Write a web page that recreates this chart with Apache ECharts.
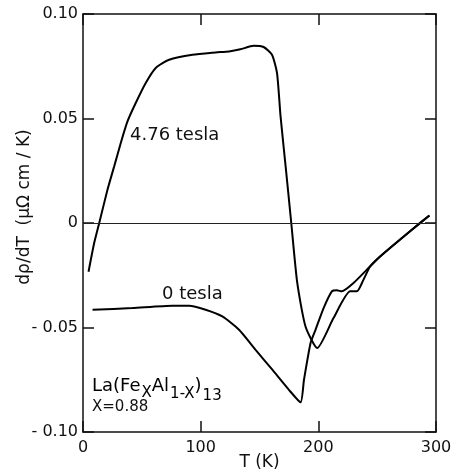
<!DOCTYPE html>
<html>
<head>
<meta charset="utf-8">
<script src="https://cdn.jsdelivr.net/npm/echarts@6/dist/echarts.min.js"></script>
<style>
html,body{margin:0;padding:0;background:#fff;}
#c{width:456px;height:473px;}
</style>
</head>
<body>
<div id="c"></div>
<script>
// Temperature (K) and dρ/dT (μΩ cm / K)
var T_476   = [4.7, 9.5, 13.8, 20.8, 26.5, 32.1, 37.8, 44.8, 53.3, 61.8, 73.2, 93, 112.7, 124.1, 133.7, 145, 153.5, 160.6, 164.9, 167.9, 172.2, 177, 182.1, 189.1, 199.1, 212.9, 227.1, 232.8, 238.4, 244, 252.5, 279.5, 294.4];
var rho_476 = [-0.0233, -0.0096, 0, 0.0159, 0.0271, 0.0383, 0.0486, 0.0574, 0.0670, 0.0742, 0.0781, 0.0805, 0.0816, 0.0821, 0.0831, 0.0848, 0.0842, 0.0805, 0.0717, 0.051, 0.0271, 0, -0.0287, -0.0495, -0.0598, -0.0455, -0.0327, -0.0327, -0.0271, -0.0208, -0.016, -0.0032, 0.0036];

var T_0   = [8.1, 42, 76, 90.2, 104.2, 118.4, 132.6, 146.7, 160.9, 175, 184.9, 187.8, 193.4, 197.6, 204.4, 211.5, 215.8, 220, 229.9, 241.3, 252.5, 279.5, 294.4];
var rho_0 = [-0.0415, -0.0407, -0.0396, -0.0396, -0.0415, -0.0447, -0.0511, -0.0607, -0.0702, -0.0798, -0.0858, -0.075, -0.0574, -0.0511, -0.0408, -0.0327, -0.0322, -0.0327, -0.0287, -0.0223, -0.016, -0.0032, 0.0036];

var xTicks = [0, 100, 200, 300];
var yTicks = [-0.10, -0.05, 0, 0.05, 0.10];

function pairs(xs, ys){ return xs.map(function(x,i){ return [x, ys[i]]; }); }

var FONT = 'DejaVu Sans';
var axisLineStyle = {color:'#111', width:1.5};
var tickStyle = {show:true, inside:true, length:11, lineStyle:{color:'#111', width:1.5}};

var chart = echarts.init(document.getElementById('c'), null, {renderer:'canvas'});
chart.setOption({
  animation:false,
  backgroundColor:'#fff',
  grid:{left:83, right:20, top:14, bottom:41, containLabel:false, outerBoundsMode:'none'},
  xAxis:[{
    type:'value', position:'bottom', min:xTicks[0], max:xTicks[xTicks.length-1], interval:100,
    axisLine:{show:true, onZero:false, lineStyle:axisLineStyle},
    axisTick:tickStyle,
    axisLabel:{show:true, color:'#111', fontFamily:FONT, fontSize:16, margin:8},
    splitLine:{show:false},
    name:'T (K)', nameLocation:'middle', nameGap:22, nameMoveOverlap:false,
    nameTextStyle:{color:'#111', fontFamily:FONT, fontSize:17}
  },{
    type:'value', position:'top', min:xTicks[0], max:xTicks[xTicks.length-1], interval:100,
    axisLine:{show:true, onZero:false, lineStyle:axisLineStyle},
    axisTick:tickStyle,
    axisLabel:{show:false}, splitLine:{show:false}
  }],
  yAxis:[{
    type:'value', position:'left', min:yTicks[0], max:yTicks[yTicks.length-1], interval:0.05,
    axisLine:{show:true, onZero:false, lineStyle:axisLineStyle},
    axisTick:tickStyle,
    axisLabel:{show:true, color:'#111', fontFamily:FONT, fontSize:16, margin:5,
      formatter:function(v){
        if (Math.abs(v) < 1e-9) return '0';
        return (v < 0 ? '- ' : '') + Math.abs(v).toFixed(2);
      }},
    splitLine:{show:false}
  },{
    type:'value', position:'right', min:yTicks[0], max:yTicks[yTicks.length-1], interval:0.05,
    axisLine:{show:true, onZero:false, lineStyle:axisLineStyle},
    axisTick:tickStyle,
    axisLabel:{show:false}, splitLine:{show:false}
  }],
  series:[{
    name:'4.76 tesla', type:'line', data:pairs(T_476, rho_476),
    showSymbol:false, smooth:0.2, lineStyle:{color:'#000', width:2},
    markLine:{silent:true, symbol:['none','none'], label:{show:false},
      lineStyle:{color:'#222', width:1, type:'solid'}, data:[{yAxis:0}]}
  },{
    name:'0 tesla', type:'line', data:pairs(T_0, rho_0),
    showSymbol:false, smooth:0.2, lineStyle:{color:'#000', width:2}
  }],
  graphic:[
    {type:'text', x:25, y:207, rotation:Math.PI/2,
      style:{text:'dρ/dT  (μΩ cm / K)', fill:'#111', font:'17px "DejaVu Sans"', align:'center', verticalAlign:'middle'}},
    {type:'text', left:130, top:126,
      style:{text:'4.76 tesla', fill:'#111', font:'18px "DejaVu Sans"'}},
    {type:'text', left:162, top:285,
      style:{text:'0 tesla', fill:'#111', font:'18px "DejaVu Sans"'}},
    {type:'text', left:92, top:377,
      style:{
        text:'{n|La(Fe}{s1|X}{n|Al}{s2|1-X}{n|)}{s3|13}',
        rich:{
          n:{fontFamily:FONT, fontSize:18, color:'#111', lineHeight:21, verticalAlign:'top'},
          s1:{fontFamily:FONT, fontSize:15, color:'#111', lineHeight:15, padding:[9,0,0,1], verticalAlign:'top'},
          s2:{fontFamily:FONT, fontSize:15, color:'#111', lineHeight:15, padding:[10,0,0,1], verticalAlign:'top'},
          s3:{fontFamily:FONT, fontSize:15, color:'#111', lineHeight:15, padding:[12,0,0,1], verticalAlign:'top'}
        }
      }},
    {type:'text', left:92, top:400,
      style:{text:'X=0.88', fill:'#111', font:'15px "DejaVu Sans"'}}
  ]
});
</script>
</body>
</html>
